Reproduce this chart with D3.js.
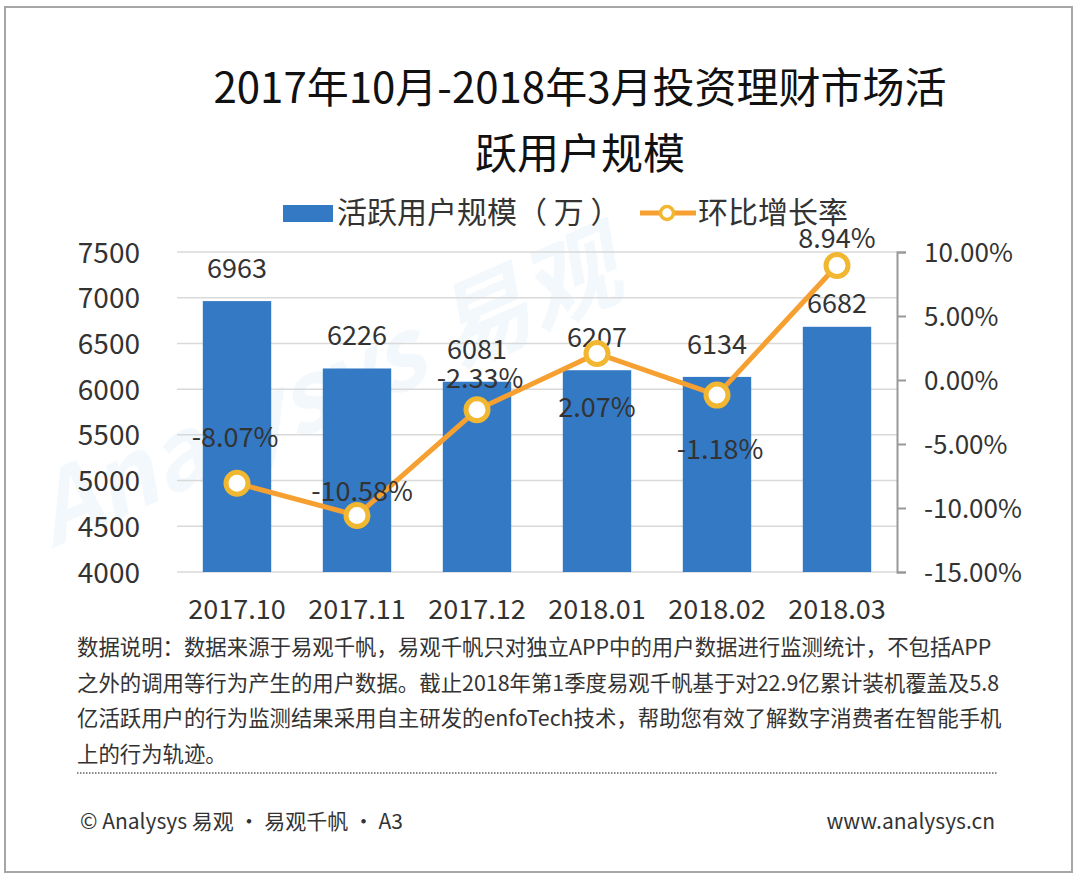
<!DOCTYPE html>
<html>
<head>
<meta charset="utf-8">
<script src="https://cdn.jsdelivr.net/npm/d3@7"></script>
<style>
  body { margin: 0; background: #fff; }
  text { font-family: "Noto Sans CJK SC", "Noto Sans", sans-serif; }
</style>
</head>
<body>
<div id="chart"></div>
<script>
// data
const months = ["2017.10", "2017.11", "2017.12", "2018.01", "2018.02", "2018.03"];
const users = [6963, 6226, 6081, 6207, 6134, 6682];
const growth = [-8.07, -10.58, -2.33, 2.07, -1.18, 8.94];
const leftTicks = [4000, 4500, 5000, 5500, 6000, 6500, 7000, 7500];
const rightTicks = [-15, -10, -5, 0, 5, 10];
const titleLines = ["2017年10月-2018年3月投资理财市场活", "跃用户规模"];
const noteLines = [
  "数据说明：数据来源于易观千帆，易观千帆只对独立APP中的用户数据进行监测统计，不包括APP",
  "之外的调用等行为产生的用户数据。截止2018年第1季度易观千帆基于对22.9亿累计装机覆盖及5.8",
  "亿活跃用户的行为监测结果采用自主研发的enfoTech技术，帮助您有效了解数字消费者在智能手机",
  "上的行为轨迹。"
];

const W = 1080, H = 878;
const plot = { left: 177, right: 897, top: 252, bottom: 572 };
const barColor = "#3479c4";
const lineColor = "#f5a030";
const markColor = "#f2b731";

const svg = d3.select("#chart").append("svg").attr("width", W).attr("height", H);

// frame
svg.append("rect")
  .attr("x", 5).attr("y", 7).attr("width", 1067).attr("height", 865)
  .attr("fill", "none").attr("stroke", "#a6a6a6").attr("stroke-width", 2);

// faint watermark
svg.append("text")
  .attr("transform", "translate(340,420) rotate(-24)")
  .attr("text-anchor", "middle")
  .attr("font-size", 96).attr("font-style", "italic").attr("font-weight", "bold")
  .attr("fill", "#3a8fd6").attr("opacity", 0.06)
  .text("Analysys 易观");

// title
svg.selectAll(".title").data(titleLines).enter().append("text")
  .attr("class", "title")
  .attr("x", 580).attr("y", (d, i) => 103 + i * 66)
  .attr("text-anchor", "middle")
  .attr("font-size", 42).attr("fill", "#111")
  .text(d => d);

// scales
const x = d3.scaleBand().domain(months).range([plot.left, plot.right]).paddingInner(0.43).paddingOuter(0.215);
const y = d3.scaleLinear().domain([4000, 7500]).range([plot.bottom, plot.top]);
const y2 = d3.scaleLinear().domain([-15, 10]).range([plot.bottom, plot.top]);

// gridlines
svg.append("g")
  .selectAll("line").data(leftTicks).enter().append("line")
  .attr("x1", plot.left).attr("x2", plot.right)
  .attr("y1", d => y(d)).attr("y2", d => y(d))
  .attr("stroke", "#d9d9d9").attr("stroke-width", 1.5);

// left axis
const yAxis = svg.append("g")
  .attr("transform", `translate(${plot.left - 37},0)`)
  .call(d3.axisLeft(y).tickValues(leftTicks).tickSize(0).tickPadding(0).tickFormat(d3.format("d")));
yAxis.select(".domain").remove();
yAxis.selectAll("text").attr("font-size", 28).attr("fill", "#333").attr("dy", "0.36em");

// right axis
const y2Axis = svg.append("g")
  .attr("transform", `translate(${plot.right},0)`)
  .call(d3.axisRight(y2).tickValues(rightTicks).tickSize(9).tickPadding(18).tickFormat(d => d.toFixed(2) + "%"));
y2Axis.select(".domain").attr("stroke", "#999").attr("stroke-width", 2);
y2Axis.selectAll(".tick line").attr("stroke", "#999").attr("stroke-width", 2);
y2Axis.selectAll("text").attr("font-size", 26).attr("fill", "#333").attr("dy", "0.36em");

// bars
svg.append("g").selectAll("rect").data(users).enter().append("rect")
  .attr("x", (d, i) => x(months[i]))
  .attr("width", x.bandwidth())
  .attr("y", d => y(d))
  .attr("height", d => y(4000) - y(d))
  .attr("fill", barColor);

// bottom axis
const xAxis = svg.append("g")
  .attr("transform", `translate(0,${plot.bottom})`)
  .call(d3.axisBottom(x).tickSize(0).tickPadding(28));
xAxis.select(".domain").remove();
xAxis.selectAll("text").attr("font-size", 27).attr("fill", "#333");

// bar labels (last one sits a little lower in the original)
const barLabelNudge = [0, 0, 0, 0, 0, 9];
svg.append("g").selectAll("text").data(users).enter().append("text")
  .attr("x", (d, i) => x(months[i]) + x.bandwidth() / 2)
  .attr("y", (d, i) => y(d) - 23 + barLabelNudge[i])
  .attr("text-anchor", "middle")
  .attr("font-size", 27).attr("fill", "#333")
  .text(d => d);

// growth line
const cx = i => x(months[i]) + x.bandwidth() / 2;
svg.append("path")
  .datum(growth)
  .attr("d", d3.line().x((d, i) => cx(i)).y(d => y2(d)))
  .attr("fill", "none").attr("stroke", lineColor).attr("stroke-width", 5);

svg.append("g").selectAll("circle").data(growth).enter().append("circle")
  .attr("cx", (d, i) => cx(i)).attr("cy", d => y2(d))
  .attr("r", 11)
  .attr("fill", "#fff").attr("stroke", markColor).attr("stroke-width", 5);

// growth labels (vertical shift from point, as placed in the original)
const labelShift = [-36, -14, -22, 63, 64, -18];
const labelNudge = [-2, 5, 3, 0, 3, 0];
svg.append("g").selectAll("text").data(growth).enter().append("text")
  .attr("x", (d, i) => cx(i) + labelNudge[i])
  .attr("y", (d, i) => y2(d) + labelShift[i])
  .attr("text-anchor", "middle")
  .attr("font-size", 27).attr("fill", "#333")
  .text(d => d.toFixed(2) + "%");

// legend
const lg = svg.append("g");
lg.append("rect").attr("x", 283).attr("y", 205).attr("width", 50).attr("height", 17).attr("fill", barColor);
lg.append("text").attr("x", 337).attr("y", 223).attr("font-size", 30).attr("fill", "#333").text("活跃用户规模（ 万 ）");
lg.append("line").attr("x1", 640).attr("x2", 696).attr("y1", 213).attr("y2", 213)
  .attr("stroke", lineColor).attr("stroke-width", 5);
lg.append("circle").attr("cx", 667).attr("cy", 213).attr("r", 6.5)
  .attr("fill", "#fff").attr("stroke", markColor).attr("stroke-width", 3.5);
lg.append("text").attr("x", 698).attr("y", 223).attr("font-size", 30).attr("fill", "#333").text("环比增长率");

// note
svg.append("g").selectAll("text").data(noteLines).enter().append("text")
  .attr("x", 77).attr("y", (d, i) => 655 + i * 35.5)
  .attr("font-size", 21.4).attr("fill", "#333")
  .text(d => d);

svg.append("line")
  .attr("x1", 77).attr("x2", 997).attr("y1", 773).attr("y2", 773)
  .attr("stroke", "#888").attr("stroke-width", 2).attr("stroke-dasharray", "1.5,1.5");

// footer
svg.append("text").attr("x", 80).attr("y", 829).attr("font-size", 21).attr("fill", "#333")
  .text("© Analysys 易观 · 易观千帆 · A3");
svg.append("text").attr("x", 995).attr("y", 829).attr("text-anchor", "end").attr("font-size", 21).attr("fill", "#333")
  .text("www.analysys.cn");
</script>
</body>
</html>
